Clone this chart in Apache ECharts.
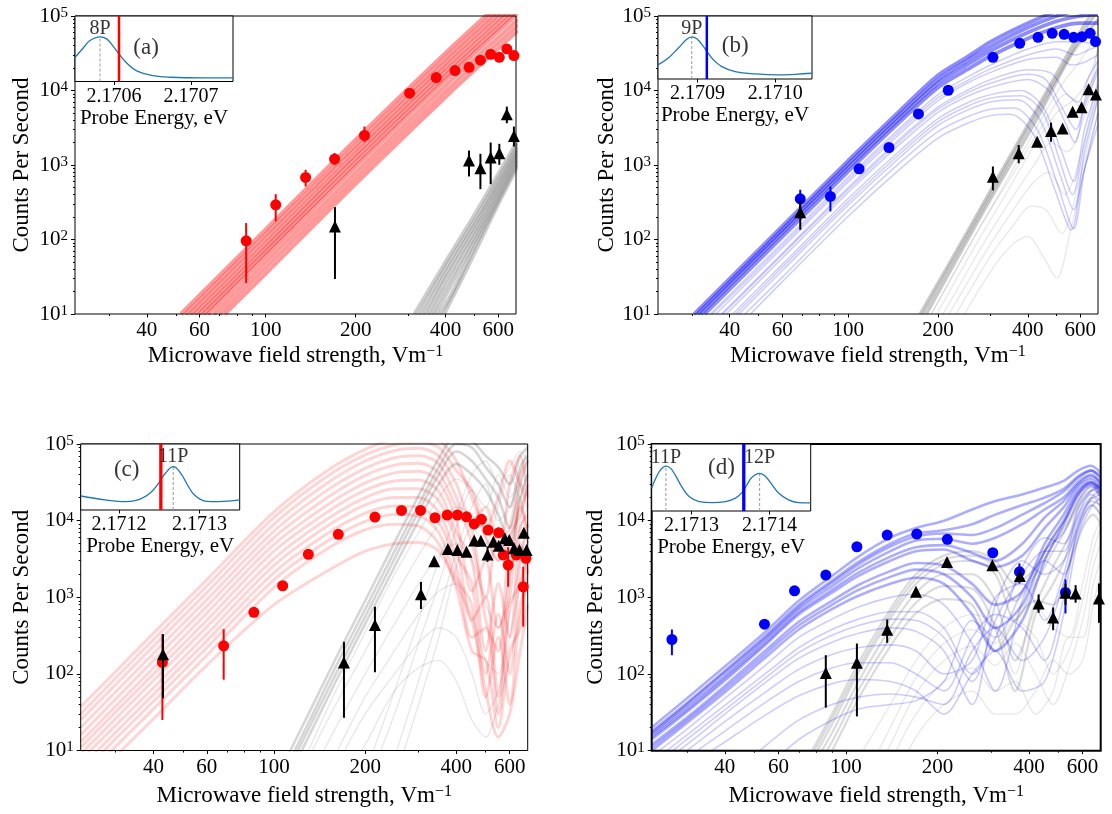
<!DOCTYPE html>
<html>
<head>
<meta charset="utf-8">
<title>Counts per second vs microwave field strength</title>
<script src="https://cdn.jsdelivr.net/npm/echarts@6/dist/echarts.min.js"></script>
<style>
html,body{margin:0;padding:0;background:#ffffff;}
#chart{width:1112px;height:814px;}
</style>
</head>
<body>
<div id="chart"></div>
<script>
// ================= axis ranges and ticks =================
const X_RANGE = [23, 688];
const Y_RANGE = [10, 100000];
const X_LABELED = [40, 60, 100, 200, 400, 600];
const X_MINOR = [30, 50, 70, 80, 90, 300, 500];
const Y_MAJOR = [10, 100, 1000, 10000, 100000];
const Y_MINOR = [20,30,40,50,60,70,80,90,200,300,400,500,600,700,800,900,
  2000,3000,4000,5000,6000,7000,8000,9000,20000,30000,40000,50000,60000,70000,80000,90000];
const X_TITLE = 'Microwave field strength, Vm';
const X_TITLE_SUP = '\u22121';
const Y_TITLE = 'Counts Per Second';
const INSET_TITLE = 'Probe Energy, eV';

// ================= panel (a) : 8P =================
const aColX = [86, 108, 136, 170, 214, 303, 372, 430, 479, 523, 566, 605, 641, 677];
const aColY = [96, 292, 680, 1200, 2490, 9190, 14900, 18500, 20500, 25500, 30600, 27900, 36100, 29400];
const aColLo = [26, 175, 515, 1005, 2050, null, null, null, null, null, null, null, null, null];
const aColHi = [166, 406, 861, 1442, 3280, null, null, null, null, null, null, null, null, null];
const aBlkX = [170.5, 479, 523, 566, 605, 641, 677];
const aBlkY = [150, 1148, 906, 1259, 1442, 4808, 2460];
const aBlkLo = [29.5, 702, 474, 553, 1005, 3640, 1770];
const aBlkHi = [272, 1563, 1413, 2004, 1924, 6081, 3281];
const aSimCol = [
  [[52,10],[100,137],[200,2190],[400,32000],[700,250000]],
  [[54,10],[100,118],[200,1880],[400,27500],[700,215000]],
  [[56,10],[100,102],[200,1630],[400,23800],[700,186000]],
  [[58,10],[100,88],[200,1410],[400,20700],[700,161000]],
  [[60,10],[100,77],[200,1240],[400,18000],[700,141000]],
  [[62,10],[100,68],[200,1080],[400,15800],[700,123000]],
  [[64,10],[100,60],[200,950],[400,13900],[700,109000]],
  [[67,10],[100,50],[200,790],[400,11600],[700,90000]],
  [[70,10],[100,42],[200,665],[400,9700],[700,76000]],
  [[73,10],[100,35],[200,560],[400,8200],[700,64000]]
];
const aSimGray = [
  [[315,10],[400,50],[500,215],[600,750],[700,2200]],
  [[326,10],[400,42],[500,180],[600,640],[700,1900]],
  [[337,10],[400,35],[500,155],[600,560],[700,1700]],
  [[348,10],[400,29],[500,132],[600,490],[700,1550]],
  [[359,10],[400,23],[500,112],[600,430],[700,1400]],
  [[370,10],[400,18],[500,95],[600,380],[700,1250]],
  [[382,10],[420,19],[500,80],[600,335],[700,1120]],
  [[395,10],[450,28],[500,66],[600,300],[700,1000]]
];
const aInsetE = [2.1705494, 2.1705601, 2.1705688, 2.1705818, 2.1705905, 2.1705991, 2.1706065, 2.1706165, 2.1706295, 2.170651, 2.1706727, 2.170716, 2.1707545];
const aInsetS = [0.367, 0.512, 0.625, 0.682, 0.651, 0.537, 0.42, 0.281, 0.162, 0.09, 0.065, 0.054, 0.054];
const aInsetRange = [2.1705494, 2.1707545];
const aInsetTicks = [2.1706, 2.1707];
const aPeakE = [2.1705818];
const aPeakS = [0.682];
const aPeakName = ['8P'];
const aLaserE = 2.1706065;
const aTag = ['(a)', 2.1706416, 0.517];

// ================= panel (b) : 9P =================
const bColX = [69, 87.1, 108.7, 136.9, 171.9, 216.4, 305.6, 375.8, 432.9, 483, 529.6, 570, 608, 647.6, 675];
const bColY = [352, 378, 889, 1717, 4853, 10080, 27900, 43000, 51800, 58600, 56800, 51800, 52800, 58600, 45300];
const bColLo = [264, 238, null, null, null, null, null, null, null, null, null, null, null, null, null];
const bColHi = [465, 515, null, null, null, null, null, null, null, null, null, null, null, null, null];
const bBlkX = [69, 305.5, 373, 430, 478.6, 523.6, 565.5, 606, 640, 677];
const bBlkY = [233, 697, 1436, 2056, 2858, 3090, 5190, 5940, 10370, 8870];
const bBlkLo = [135, 457, 1055, null, 2056, null, null, null, null, null];
const bBlkHi = [341, 955, 1854, null, 3700, null, null, null, null, null];
const bSimCol = [
  [[30.4,10],[60,150],[100,1150],[150,5500],[200,16000],[250,28000],[300,45000],[400,80000],[500,115000],[600,140000],[688,150000]],
  [[31.2,10],[60,135],[100,1030],[150,4900],[200,14000],[250,25000],[300,39000],[400,70000],[500,100000],[600,120000],[688,125000]],
  [[32,10],[60,123],[100,930],[150,4400],[200,12500],[250,22000],[300,34000],[400,60000],[500,85000],[600,100000],[688,105000]],
  [[33,10],[60,108],[100,820],[150,3900],[200,11000],[250,19000],[300,29000],[400,50000],[500,70000],[600,80000],[688,80000]],
  [[34.5,10],[60,90],[100,690],[150,3200],[200,8800],[250,15000],[300,22000],[400,36000],[500,45000],[600,45000],[688,40000]],
  [[35,10],[60,83],[100,640],[150,2950],[200,8000],[250,13500],[300,19500],[400,30000],[500,36000],[580,30000],[640,35000],[688,40000]],
  [[36,10],[60,77],[100,590],[150,2700],[200,7300],[250,12500],[300,17500],[400,26000],[500,28000],[560,22000],[620,24000],[688,30000]],
  [[37.5,10],[60,65],[100,500],[150,2300],[200,6000],[250,10000],[300,14000],[400,19000],[480,17000],[540,9000],[590,7000],[640,15000],[688,25000]],
  [[38,10],[60,62],[100,470],[150,2150],[200,5600],[250,9200],[300,12500],[400,16500],[460,14000],[520,6000],[580,3000],[630,9000],[688,20000]],
  [[39,10],[60,56],[100,430],[150,1950],[200,5100],[250,8300],[300,11000],[400,14000],[470,10000],[530,4000],[575,2000],[620,6000],[688,18000]],
  [[41,10],[60,46],[100,355],[150,1600],[200,4200],[250,6800],[300,8800],[380,10000],[450,6000],[520,1500],[570,600],[620,3000],[688,12000]],
  [[42,10],[60,42],[100,320],[150,1450],[200,3800],[250,6100],[300,7900],[380,8500],[450,5000],[510,1200],[565,400],[620,2000],[688,10000]],
  [[43,10],[60,38],[100,290],[150,1300],[200,3400],[250,5400],[300,7000],[370,7500],[440,4000],[510,800],[570,250],[620,1500],[688,8000]],
  [[45,10],[60,31],[100,245],[150,1100],[200,2800],[250,4400],[300,5600],[360,5800],[430,3000],[500,600],[570,140],[620,900],[688,5000]],
  [[47,10],[60,27],[100,205],[150,900],[200,2300],[250,3600],[300,4600],[350,4800],[420,2500],[490,500],[560,135],[610,700],[688,3500]]
];
const bSimGray = [
  [[174,10],[250,125],[305,515],[427,5500],[596,59000],[688,150000]],
  [[178,10],[250,110],[305,450],[427,4800],[596,50000],[688,120000]],
  [[183,10],[250,95],[305,390],[427,4000],[560,30000],[688,90000]],
  [[190,10],[260,95],[320,400],[420,2800],[520,12000],[600,25000],[688,60000]],
  [[198,10],[270,90],[330,350],[420,1800],[500,5000],[580,8000],[640,15000],[688,35000]],
  [[208,10],[280,80],[340,280],[420,1000],[480,2000],[540,1500],[600,3000],[688,25000]],
  [[218,10],[290,70],[350,220],[420,600],[470,800],[530,400],[590,1000],[688,15000]],
  [[230,10],[300,60],[360,160],[410,280],[460,250],[520,120],[580,400],[688,8000]],
  [[245,10],[310,45],[360,90],[400,110],[450,60],[500,30],[560,150],[688,5000]],
  [[190,10],[280,160],[360,800],[450,3500],[540,9000],[600,6000],[650,12000],[688,40000]]
];
const bInsetE = [2.170849, 2.1708623, 2.1708752, 2.1708861, 2.1708925, 2.170899, 2.1709075, 2.1709119, 2.1709204, 2.1709312, 2.1709484, 2.1709742, 2.1710043, 2.1710258, 2.1710474];
const bInsetS = [0.225, 0.332, 0.493, 0.631, 0.669, 0.637, 0.518, 0.438, 0.305, 0.197, 0.117, 0.08, 0.064, 0.075, 0.091];
const bInsetRange = [2.170849, 2.1710474];
const bInsetTicks = [2.1709, 2.1710];
const bPeakE = [2.1708925];
const bPeakS = [0.669];
const bPeakName = ['9P'];
const bLaserE = 2.1709119;
const bTag = ['(b)', 2.1709484, 0.518];

// ================= panel (c) : 11P =================
const cColX = [42.8, 68.2, 85.8, 106.8, 129.8, 163, 215.4, 263.6, 304.7, 340, 373, 403, 432, 458, 484, 509, 552, 571, 593, 631, 665, 679];
const cColY = [141, 232, 636, 1413, 3630, 6620, 11140, 13600, 13600, 10900, 11800, 11800, 11200, 9040, 10400, 7530, 6950, 3550, 2630, 3550, 1370, 3220];
const cColLo = [25, 84, null, null, null, null, null, null, null, null, null, null, null, null, null, null, null, null, 1370, null, 414, null];
const cColHi = [330, 383, null, null, null, null, null, null, null, null, null, null, null, null, null, null, null, null, 4500, null, 2500, null];
const cBlkX = [43, 170.2, 215.4, 305.6, 338, 375, 403, 432, 458, 482, 507, 530, 552, 578, 598, 620, 646, 668, 682];
const cBlkY = [181, 141, 434, 1092, 2950, 4250, 4150, 3930, 5500, 5450, 3600, 5300, 4700, 5900, 5600, 4350, 4130, 6950, 4130];
const cBlkLo = [48, 26.7, 105, 702, null, null, null, null, null, null, 2900, null, null, null, null, null, null, null, null];
const cBlkHi = [329, 262, 752, 1585, null, null, null, null, null, null, 4600, null, null, null, null, null, null, null, null];
const cSimColX = [23, 40, 60, 100, 150, 200, 250, 300, 350, 400, 450, 500, 550, 600, 650, 688];
const cSimCol = [
  [37, 340, 1700, 13000, 45000, 85000, 115000, 120000, 110000, 60000, 20000, 8000, 20000, 60000, 30000, 15000],
  [30, 280, 1400, 11000, 38000, 72000, 98000, 105000, 90000, 45000, 25000, 6000, 3000, 30000, 70000, 20000],
  [25, 230, 1150, 9000, 31000, 60000, 82000, 88000, 70000, 30000, 10000, 15000, 5000, 8000, 40000, 60000],
  [20, 185, 930, 7300, 25000, 48000, 66000, 70000, 55000, 20000, 5000, 1000, 8000, 3000, 15000, 8000],
  [16, 150, 760, 6000, 20000, 39000, 53000, 56000, 42000, 15000, 8000, 500, 200, 6000, 12000, 30000],
  [13, 120, 620, 4900, 16000, 31000, 42000, 44000, 32000, 10000, 1200, 3000, 400, 1000, 20000, 5000],
  [11, 100, 500, 4000, 13000, 25000, 33000, 34000, 24000, 7000, 3000, 200, 1500, 300, 8000, 12000],
  [9, 82, 410, 3200, 10500, 20000, 26000, 26000, 18000, 5000, 500, 1000, 50, 2000, 5000, 2000],
  [7.5, 66, 330, 2600, 8500, 16000, 20000, 20000, 13000, 3500, 1500, 100, 600, 100, 3000, 9000],
  [6, 54, 270, 2100, 6800, 12500, 15500, 15000, 9500, 2500, 300, 400, 30, 800, 1500, 4000],
  [5, 44, 220, 1700, 5400, 9800, 12000, 11500, 7000, 1800, 800, 50, 300, 40, 800, 1500],
  [4, 35, 175, 1350, 4300, 7600, 9000, 8500, 5000, 1300, 200, 150, 20, 200, 400, 3000],
  [3, 26, 130, 800, 2200, 4000, 5000, 5200, 4000, 1500, 500, 60, 15, 30, 200, 800]
];
const cSimGrayX = [110, 130, 160, 200, 250, 300, 350, 400, 450, 500, 550, 600, 650, 688];
const cSimGray = [
  [8, 30, 160, 900, 5200, 21000, 65000, 130000, 110000, 70000, 50000, 30000, 70000, 90000],
  [6, 23, 125, 700, 4000, 16000, 50000, 100000, 90000, 50000, 30000, 15000, 50000, 70000],
  [5, 19, 100, 560, 3200, 13000, 40000, 80000, 60000, 35000, 20000, 8000, 30000, 60000],
  [4, 15, 80, 450, 2500, 10000, 30000, 55000, 40000, 25000, 12000, 5000, 20000, 40000],
  [null, 8, 40, 200, 1000, 3500, 9000, 15000, 12000, 6000, 3000, 6000, 15000, 25000],
  [null, 4, 20, 100, 450, 1500, 3500, 5000, 3000, 800, 400, 2000, 8000, 15000],
  [null, null, 9, 50, 200, 600, 1200, 1500, 600, 150, 100, 600, 3000, 10000],
  [null, null, 6, 30, 100, 250, 400, 300, 100, 30, 60, 300, 1500, 5000],
  [null, null, 3, 12, 60, 120, 150, 80, 25, 15, 40, 150, 600, 2000],
  [null, 10, 60, 350, 2000, 7000, 20000, 35000, 25000, 10000, 4000, 2500, 10000, 30000],
  [null, null, null, 5, 60, 500, 3000, 12000, 40000, 60000, 30000, 50000, 80000, 60000],
  [null, null, null, 3, 30, 250, 1500, 8000, 25000, 15000, 40000, 20000, 40000, 100000],
  [null, null, null, null, 8, 80, 600, 4000, 15000, 30000, 10000, 15000, 30000, 20000],
  [null, null, null, null, 4, 40, 300, 2500, 8000, 5000, 15000, 40000, 20000, 50000]
];
const cInsetE = [2.1711523, 2.171183, 2.1712084, 2.1712256, 2.1712383, 2.171249, 2.1712575, 2.1712673, 2.1712767, 2.1712851, 2.1712937, 2.1713065, 2.1713235, 2.1713499];
const cInsetS = [0.212, 0.152, 0.126, 0.162, 0.253, 0.404, 0.556, 0.656, 0.556, 0.379, 0.227, 0.136, 0.126, 0.152];
const cInsetRange = [2.1711523, 2.1713499];
const cInsetTicks = [2.1712, 2.1713];
const cPeakE = [2.1712673];
const cPeakS = [0.656];
const cPeakName = ['11P'];
const cLaserE = 2.1712519;
const cTag = ['(c)', 2.1712095, 0.606];

// ================= panel (d) : 11P / 12P =================
const dColX = [26.8, 54, 67.8, 85.9, 108.7, 136.7, 171, 215.5, 304, 372, 527];
const dColY = [282, 447, 1217, 1950, 4570, 6490, 6700, 5710, 3815, 2150, 1160];
const dColLo = [176, null, null, null, null, null, null, null, null, 1517, 617];
const dColHi = [381, null, null, null, null, null, null, null, null, 2770, 1715];
const dBlkX = [85.9, 108.7, 136.7, 170, 215, 303, 373, 430, 480, 527, 569, 679];
const dBlkY = [103, 140, 378, 1180, 2900, 2630, 1905, 832, 547, 1150, 1122, 968];
const dBlkLo = [36.5, 28, 255, null, null, null, 1600, 628, 373, 800, 851, 465];
const dBlkHi = [176, 250, 513, null, null, null, 2350, 1092, 738, 1500, 1443, 1517];
const dSimColX = [23, 30, 40, 55, 70, 90, 110, 140, 170, 210, 260, 310, 380, 450, 520, 580, 640, 688];
const dSimCol = [
  [20, 48, 125, 370, 900, 1900, 3400, 6000, 8000, 10000, 14000, 18000, 22000, 27000, 33000, 45000, 52000, 42000],
  [18, 42, 110, 330, 800, 1650, 2900, 5000, 6800, 7500, 9000, 12000, 16000, 20000, 26000, 38000, 45000, 35000],
  [17, 40, 105, 310, 750, 1550, 2700, 4600, 6200, 6800, 6500, 8000, 12000, 17000, 24000, 36000, 45000, 38000],
  [16, 37, 95, 290, 700, 1400, 2400, 4000, 5500, 5800, 5000, 6000, 9000, 14000, 20000, 32000, 40000, 30000],
  [15, 34, 88, 265, 640, 1250, 2100, 3400, 4500, 4800, 3800, 3000, 5000, 11000, 18000, 30000, 38000, 32000],
  [14, 32, 82, 250, 600, 1150, 1900, 3000, 4000, 4200, 3000, 2500, 3500, 8000, 15000, 28000, 35000, 28000],
  [12, 27, 70, 210, 480, 900, 1450, 2200, 2800, 2600, 1500, 800, 1200, 5000, 12000, 25000, 32000, 25000],
  [11, 25, 64, 190, 430, 800, 1250, 1850, 2300, 2000, 1000, 400, 800, 4000, 10000, 23000, 32000, 26000],
  [10, 23, 58, 170, 380, 700, 1050, 1500, 1800, 1500, 600, 200, 500, 3000, 9000, 22000, 30000, 22000],
  [8.5, 19, 48, 135, 300, 520, 750, 1000, 1100, 800, 250, 60, 900, 4000, 7000, 18000, 28000, 20000],
  [7, 16, 39, 105, 220, 380, 520, 650, 650, 400, 100, 300, 2500, 6000, 5000, 15000, 25000, 30000],
  [6, 14, 34, 92, 190, 320, 430, 520, 500, 300, 80, 500, 2000, 4000, 4000, 14000, 24000, 28000],
  [5.5, 12, 30, 80, 160, 260, 340, 400, 360, 200, 40, 800, 3000, 2000, 3000, 12000, 22000, 18000],
  [4.5, 10, 24, 60, 115, 180, 220, 240, 200, 100, 150, 1000, 1500, 500, 2000, 10000, 20000, 25000],
  [3.5, 8, 18, 44, 80, 120, 140, 140, 100, 60, 300, 600, 400, 150, 1000, 8000, 18000, 16000],
  [2.5, 6, 13, 30, 52, 75, 85, 80, 60, 30, 100, 200, 60, 80, 600, 6000, 15000, 20000],
  [null, 1.5, 4, 12, 25, 40, 50, 55, 50, 40, 200, 400, 150, 300, 1500, 7000, 16000, 12000],
  [null, null, 2, 6, 14, 25, 35, 40, 45, 80, 500, 300, 1200, 3000, 2000, 9000, 19000, 22000]
];
const dSimGrayX = [75, 90, 110, 140, 170, 210, 260, 310, 360, 420, 480, 540, 600, 650, 688];
const dSimGray = [
  [8, 30, 140, 700, 2000, 3500, 4000, 3000, 1500, 2500, 6000, 12000, 25000, 30000, 25000],
  [7, 26, 120, 610, 1750, 3100, 3500, 2500, 900, 2000, 5000, 10000, 22000, 28000, 22000],
  [6, 22, 105, 530, 1500, 2700, 3000, 2000, 500, 1500, 4000, 9000, 20000, 25000, 20000],
  [5, 17, 80, 400, 1150, 2000, 2000, 900, 150, 800, 2500, 6000, 15000, 20000, 15000],
  [4, 13, 62, 300, 850, 1400, 1300, 400, 60, 600, 1500, 4000, 11000, 16000, 12000],
  [3, 10, 48, 230, 620, 950, 800, 200, 500, 900, 800, 2500, 8000, 12000, 9000],
  [null, 2, 8, 40, 150, 400, 600, 450, 100, 800, 400, 300, 1500, 6000, 10000],
  [null, null, 3, 20, 90, 250, 380, 250, 500, 300, 100, 200, 900, 4000, 8000],
  [null, null, 2, 12, 55, 150, 230, 130, 250, 100, 40, 120, 500, 2500, 5000],
  [null, null, null, 7, 30, 80, 120, 60, 80, 30, 60, 300, 300, 1500, 3000],
  [null, null, null, 3, 15, 40, 60, 30, 30, 60, 150, 100, 150, 800, 2000]
];
const dInsetE = [2.1712491, 2.1712546, 2.1712609, 2.1712673, 2.1712737, 2.17128, 2.1712885, 2.171297, 2.1713097, 2.1713267, 2.1713436, 2.1713564, 2.1713649, 2.1713712, 2.1713776, 2.1713873, 2.1713945, 2.1714031, 2.1714115, 2.1714242, 2.1714369, 2.1714527];
const dInsetS = [0.344, 0.495, 0.621, 0.671, 0.632, 0.52, 0.344, 0.217, 0.141, 0.126, 0.141, 0.192, 0.277, 0.394, 0.505, 0.561, 0.52, 0.394, 0.268, 0.167, 0.126, 0.121];
const dInsetRange = [2.1712491, 2.1714527];
const dInsetTicks = [2.1713, 2.1714];
const dPeakE = [2.1712673, 2.1713873];
const dPeakS = [0.671, 0.561];
const dPeakName = ['11P', '12P'];
const dLaserE = 2.171367;
const dTag = ['(d)', 2.1713385, 0.647];

// ================= build =================
const RED = '#ff0000', BLUE = '#0000ff', GRAY = '#7f7f7f', BLACK = '#000000', CURVE = '#1f77b4';
const FONT = "'Liberation Serif', 'Times New Roman', serif";
const L = Math.log10;
const PEAK_LABEL_LEVEL = 0.8;

const PANELS = [
  { col: RED,  colPts: [aColX, aColY, aColLo, aColHi], blkPts: [aBlkX, aBlkY, aBlkLo, aBlkHi],
    simCol: aSimCol, simGray: aSimGray,
    inset: [aInsetE, aInsetS, aInsetRange, aInsetTicks, aPeakE, aPeakS, aPeakName, aLaserE, aTag],
    grid: {left: 75, top: 16, width: 441, height: 298}, box: {left: 75, top: 16, width: 158, height: 65.5},
    yGap: 42, xGap: 30, frame: 1, laserW: 2.5,
    colStyle: [[99, 4, 0.4]], grayStyle: [[99, 4, 0.4]] },
  { col: BLUE, colPts: [bColX, bColY, bColLo, bColHi], blkPts: [bBlkX, bBlkY, bBlkLo, bBlkHi],
    simCol: bSimCol, simGray: bSimGray,
    inset: [bInsetE, bInsetS, bInsetRange, bInsetTicks, bPeakE, bPeakS, bPeakName, bLaserE, bTag],
    grid: {left: 658, top: 16, width: 440, height: 298}, box: {left: 658, top: 16, width: 154, height: 63},
    yGap: 39, xGap: 30, frame: 1, laserW: 2.5,
    colStyle: [[4, 3.8, 0.45], [99, 1.5, 0.2]], grayStyle: [[3, 3, 0.42], [99, 1.3, 0.18]] },
  { col: RED,  colPts: [cColX, cColY, cColLo, cColHi], blkPts: [cBlkX, cBlkY, cBlkLo, cBlkHi],
    simCol: cSimCol.map(ys => cSimColX.map((x, i) => [x, ys[i]])),
    simGray: cSimGray.map(ys => cSimGrayX.map((x, i) => [x, ys[i]])),
    inset: [cInsetE, cInsetS, cInsetRange, cInsetTicks, cPeakE, cPeakS, cPeakName, cLaserE, cTag],
    grid: {left: 80.7, top: 444, width: 447, height: 306.5}, box: {left: 80.7, top: 444, width: 159, height: 66},
    yGap: 47.7, xGap: 33.5, frame: 1, laserW: 3.3,
    colStyle: [[99, 3, 0.17]], grayStyle: [[4, 2.6, 0.32], [99, 1.4, 0.18]] },
  { col: BLUE, colPts: [dColX, dColY, dColLo, dColHi], blkPts: [dBlkX, dBlkY, dBlkLo, dBlkHi],
    simCol: dSimCol.map(ys => dSimColX.map((x, i) => [x, ys[i]])),
    simGray: dSimGray.map(ys => dSimGrayX.map((x, i) => [x, ys[i]])),
    inset: [dInsetE, dInsetS, dInsetRange, dInsetTicks, dPeakE, dPeakS, dPeakName, dLaserE, dTag],
    grid: {left: 651.7, top: 444, width: 449, height: 306.7}, box: {left: 651.7, top: 444, width: 159, height: 67},
    yGap: 44.7, xGap: 33.5, frame: 2, laserW: 3.3,
    colStyle: [[9, 2.6, 0.32], [99, 1.6, 0.2]], grayStyle: [[6, 2.2, 0.28], [99, 1.3, 0.18]] }
];

function styleFor(table, idx) {
  for (const s of table) { if (idx < s[0]) return s; }
  return table[table.length - 1];
}

function errRender(color) {
  return function (params, api) {
    const p1 = api.coord([api.value(0), api.value(1)]);
    const p2 = api.coord([api.value(0), api.value(2)]);
    return { type: 'line', shape: {x1: p1[0], y1: p1[1], x2: p2[0], y2: p2[1]},
             style: {stroke: color, lineWidth: 2} };
  };
}

const grids = [], xAxes = [], yAxes = [], series = [];

PANELS.forEach((P) => {
  grids.push(Object.assign({show: true, borderColor: '#000', borderWidth: P.frame,
    backgroundColor: 'transparent', z: 3, outerBoundsMode: 'none', containLabel: false}, P.grid));
});
PANELS.forEach((P) => {
  grids.push(Object.assign({show: true, borderColor: '#000', borderWidth: 1,
    backgroundColor: '#ffffff', z: 10, outerBoundsMode: 'none', containLabel: false}, P.box));
});

PANELS.forEach((P, p) => {
  const ix = 3 * p;
  xAxes.push({
    type: 'value', gridIndex: p, min: L(X_RANGE[0]), max: L(X_RANGE[1]),
    axisLine: {show: false}, splitLine: {show: false},
    axisTick: {show: true, customValues: X_LABELED.map(L), length: 3.5, lineStyle: {color: '#000', width: 1}},
    axisLabel: {show: true, customValues: X_LABELED.map(L), margin: 6, color: '#000',
      fontFamily: FONT, fontSize: 21, formatter: v => String(Math.round(Math.pow(10, v)))},
    name: X_TITLE + '{s|' + X_TITLE_SUP + '}', nameLocation: 'middle', nameGap: P.xGap,
    nameTextStyle: {fontFamily: FONT, fontSize: 23, color: '#000',
      rich: {s: {fontFamily: FONT, fontSize: 16, verticalAlign: 'top', color: '#000'}}}
  });
  xAxes.push({
    type: 'value', gridIndex: p, min: L(X_RANGE[0]), max: L(X_RANGE[1]), position: 'bottom',
    axisLine: {show: false}, splitLine: {show: false}, axisLabel: {show: false},
    axisTick: {show: true, customValues: X_MINOR.map(L), length: 2, lineStyle: {color: '#000', width: 1}}
  });
  const I = P.inset;
  xAxes.push({
    type: 'value', gridIndex: 4 + p, min: I[2][0], max: I[2][1], z: 11,
    axisLine: {show: false}, splitLine: {show: false},
    axisTick: {show: true, customValues: I[3], length: 3.5, lineStyle: {color: '#000', width: 1}},
    axisLabel: {show: true, customValues: I[3], margin: 5, color: '#000', fontFamily: FONT, fontSize: 20,
      formatter: v => v.toFixed(4)},
    name: INSET_TITLE, nameLocation: 'middle', nameGap: 26,
    nameTextStyle: {fontFamily: FONT, fontSize: 21, color: '#000'}
  });

  yAxes.push({
    type: 'value', gridIndex: p, min: L(Y_RANGE[0]), max: L(Y_RANGE[1]),
    axisLine: {show: false}, splitLine: {show: false},
    axisTick: {show: true, customValues: Y_MAJOR.map(L), length: 4, lineStyle: {color: '#000', width: 1}},
    axisLabel: {show: true, customValues: Y_MAJOR.map(L), margin: 7,
      formatter: v => '{b|10}{s|' + Math.round(v) + '}',
      rich: {b: {fontFamily: FONT, fontSize: 21, color: '#000'},
             s: {fontFamily: FONT, fontSize: 15, color: '#000', verticalAlign: 'top'}}},
    name: Y_TITLE, nameLocation: 'middle', nameGap: P.yGap,
    nameTextStyle: {fontFamily: FONT, fontSize: 23, color: '#000'}
  });
  yAxes.push({
    type: 'value', gridIndex: p, min: L(Y_RANGE[0]), max: L(Y_RANGE[1]), position: 'left',
    axisLine: {show: false}, splitLine: {show: false}, axisLabel: {show: false},
    axisTick: {show: true, customValues: Y_MINOR.map(L), length: 2, lineStyle: {color: '#000', width: 1}}
  });
  yAxes.push({ type: 'value', gridIndex: 4 + p, min: 0, max: 1, show: false });

  P.simGray.forEach((line, k) => {
    const st = styleFor(P.grayStyle, k);
    series.push({type: 'line', xAxisIndex: ix, yAxisIndex: ix, silent: true, z: 2,
      symbol: 'none', smooth: 0.3, clip: true,
      lineStyle: {color: GRAY, width: st[1], opacity: st[2]},
      data: line.filter(q => q[1] != null).map(q => [L(q[0]), L(q[1])])});
  });
  P.simCol.forEach((line, k) => {
    const st = styleFor(P.colStyle, k);
    series.push({type: 'line', xAxisIndex: ix, yAxisIndex: ix, silent: true, z: 2,
      symbol: 'none', smooth: 0.3, clip: true,
      lineStyle: {color: P.col, width: st[1], opacity: st[2]},
      data: line.filter(q => q[1] != null).map(q => [L(q[0]), L(q[1])])});
  });

  const C = P.colPts;
  series.push({type: 'custom', xAxisIndex: ix, yAxisIndex: ix, silent: true, z: 4,
    renderItem: errRender(P.col), encode: {x: 0, y: [1, 2]},
    data: C[0].map((x, i) => C[2][i] == null ? null : [L(x), L(C[2][i]), L(C[3][i])]).filter(d => d)});
  series.push({type: 'scatter', xAxisIndex: ix, yAxisIndex: ix, silent: true, z: 5,
    symbol: 'circle', symbolSize: 11, itemStyle: {color: P.col, opacity: 1},
    data: C[0].map((x, i) => [L(x), L(C[1][i])])});
  const B = P.blkPts;
  series.push({type: 'custom', xAxisIndex: ix, yAxisIndex: ix, silent: true, z: 6,
    renderItem: errRender(BLACK), encode: {x: 0, y: [1, 2]},
    data: B[0].map((x, i) => B[2][i] == null ? null : [L(x), L(B[2][i]), L(B[3][i])]).filter(d => d)});
  series.push({type: 'scatter', xAxisIndex: ix, yAxisIndex: ix, silent: true, z: 7,
    symbol: 'triangle', symbolSize: 12, itemStyle: {color: BLACK, opacity: 1},
    data: B[0].map((x, i) => [L(x), L(B[1][i])])});

  const ia = ix + 2;
  I[4].forEach((pe, k) => {
    series.push({type: 'line', xAxisIndex: ia, yAxisIndex: ia, silent: true, z: 12, symbol: 'none',
      lineStyle: {color: '#9a9a9a', width: 1, type: [3, 2]},
      data: [[pe, 0], [pe, I[5][k]]]});
  });
  series.push({type: 'line', xAxisIndex: ia, yAxisIndex: ia, silent: true, z: 13, symbol: 'none',
    smooth: 0.4, lineStyle: {color: CURVE, width: 1.3},
    data: I[0].map((e, i) => [e, I[1][i]])});
  series.push({type: 'line', xAxisIndex: ia, yAxisIndex: ia, silent: true, z: 14, symbol: 'none',
    lineStyle: {color: P.col, width: P.laserW},
    data: [[I[7], 0], [I[7], 1]]});
  const labels = I[4].map((pe, k) => [pe, PEAK_LABEL_LEVEL, I[6][k], 20]);
  labels.push([I[8][1], I[8][2], I[8][0], 23]);
  series.push({type: 'scatter', xAxisIndex: ia, yAxisIndex: ia, silent: true, z: 15,
    symbol: 'circle', symbolSize: 1, itemStyle: {color: 'transparent'},
    label: {show: true, position: 'inside', color: '#000', fontFamily: FONT,
      formatter: prm => prm.value[2]},
    data: labels.map(l => ({value: [l[0], l[1], l[2]], label: {fontSize: l[3]}}))});
});

const chart = echarts.init(document.getElementById('chart'), null, {renderer: 'canvas', width: 1112, height: 814});
chart.setOption({
  animation: false,
  backgroundColor: '#ffffff',
  textStyle: {fontFamily: FONT, color: '#000'},
  grid: grids,
  xAxis: xAxes,
  yAxis: yAxes,
  series: series
});
</script>
</body>
</html>
